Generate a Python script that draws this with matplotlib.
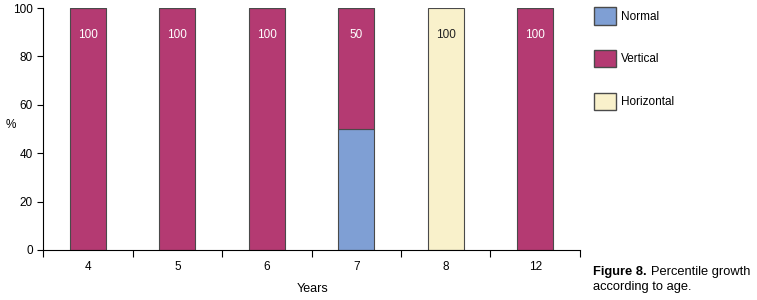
import matplotlib
matplotlib.use("Agg")
import matplotlib.pyplot as plt
import numpy as np
from matplotlib.patches import Patch

plt.rcParams['font.family'] = ['Liberation Sans', 'DejaVu Sans']

years = ["4", "5", "6", "7", "8", "12"]
normal = [0, 0, 0, 50, 0, 0]
vertical = [100, 100, 100, 50, 0, 100]
horizontal = [0, 0, 0, 0, 100, 0]
labels = ["100", "100", "100", "50", "100", "100"]

c_norm = "#7f9fd4"
c_vert = "#b43a72"
c_hor = "#f9f1cb"
edge = "#4a4a4a"

fig = plt.figure(figsize=(7.57, 3.0), dpi=100)
ax = fig.add_axes([0.057, 0.167, 0.709, 0.806])

x = np.arange(len(years))
w = 0.4
ax.bar(x, normal, w, color=c_norm, edgecolor=edge, lw=0.8)
ax.bar(x, vertical, w, bottom=normal, color=c_vert, edgecolor=edge, lw=0.8)
bot2 = np.array(normal) + np.array(vertical)
ax.bar(x, horizontal, w, bottom=bot2, color=c_hor, edgecolor=edge, lw=0.8)

for i in range(len(years)):
    col = "#222222" if horizontal[i] > 0 else "white"
    ax.text(x[i], 89, labels[i], ha="center", va="center", fontsize=8.5, color=col)

ax.set_xlim(-0.5, len(years) - 0.5)
ax.set_ylim(0, 100)
ax.set_yticks([0, 20, 40, 60, 80, 100])
ax.set_xticks(x)
ax.set_xticklabels(years)
ax.set_xticks(np.arange(len(years) + 1) - 0.5, minor=True)
ax.tick_params(axis="x", which="major", length=0, pad=8, labelsize=8.5)
ax.tick_params(axis="x", which="minor", length=5, direction="out", width=0.8)
ax.tick_params(axis="y", length=4, direction="out", labelsize=8.5, width=0.8)
ax.spines["top"].set_visible(False)
ax.spines["right"].set_visible(False)

fig.text(0.008, 0.583, "%", fontsize=8.5, ha="left", va="center")
fig.text(0.413, 0.037, "Years", fontsize=9, ha="center", va="center")

handles = [Patch(facecolor=c_norm, edgecolor=edge, label="Normal"),
           Patch(facecolor=c_vert, edgecolor=edge, label="Vertical"),
           Patch(facecolor=c_hor, edgecolor=edge, label="Horizontal")]
fig.legend(handles=handles, loc="upper left", bbox_to_anchor=(0.775, 1.0),
           frameon=False, fontsize=8.5, handlelength=1.9, handleheight=1.9,
           labelspacing=2.15, handletextpad=0.4, borderaxespad=0.2)

t1 = fig.text(0.784, 0.093, "Figure 8.", fontsize=9.3, fontweight="bold",
              ha="left", va="center")
ax.annotate("Percentile growth", xy=(1, 0.5), xycoords=t1, xytext=(2.5, 0),
            textcoords="offset points", fontsize=9.3, ha="left", va="center",
            annotation_clip=False)
fig.text(0.784, 0.043, "according to age.", fontsize=9.3, ha="left", va="center")

fig.savefig("out.png", dpi=100)
